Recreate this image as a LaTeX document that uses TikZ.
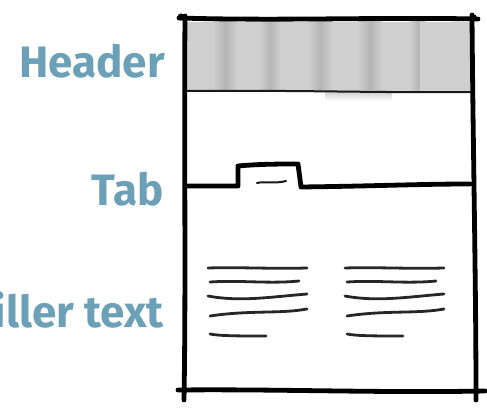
\documentclass[tikz,border=0pt]{standalone}
\usepackage{fontspec}
\newfontfamily\lblfont{Fira Sans}[BoldFont={Fira Sans Bold}]
\definecolor{lblblue}{RGB}{108,160,182}
\tikzset{
  lbl/.style={anchor=east, text=lblblue, font=\lblfont\bfseries\fontsize{44}{44}\selectfont, inner sep=0pt},
  frameline/.style={line width=4.8pt, line cap=round, line join=round, black},
  thinline/.style={line width=2pt, line cap=round, black!90},
  txtline/.style={line width=2.8pt, line cap=round, black!85},
}
\begin{document}
\begin{tikzpicture}[x=1pt,y=-1pt]
\useasboundingbox (0,0) rectangle (487,409);
\clip (0,0) rectangle (487,409);
% header band
\fill[gray!38] (186,22) rectangle (472,91);
\foreach \sx/\sw in {225/12,270/10,320/12,370/12,418/8}{
  \shade[left color=gray!38, right color=gray!38, middle color=gray!58] (\sx-\sw,22) rectangle (\sx+\sw,91);
}
\fill[gray!38] (420,22) rectangle (472,91);
\shade[top color=gray!40, bottom color=white] (325,91) rectangle (392,101);
\draw[thinline] (187,91) .. controls (300,90) and (380,93) .. (470,92);
% frame
\draw[frameline] (179,18) .. controls (280,21) and (380,17) .. (478,19);
\draw[frameline] (185,16) .. controls (184,150) and (186,280) .. (184,400);
\draw[frameline] (472,15) .. controls (473,150) and (476,280) .. (476,400);
\draw[frameline] (178,390) .. controls (280,389) and (380,393) .. (485,391);
\fill (181,17) circle (3.5pt);
\fill (474,17) circle (2.5pt);
% tab
\draw[frameline] (186,186) -- (238,186) -- (238,166) .. controls (260,164) and (280,164) .. (298,164) -- (301,187) .. controls (380,186) and (420,184) .. (470,184);
\draw[thinline] (257,183) .. controls (265,181) and (275,184) .. (286,181);
% filler text lines
\foreach \dx in {0,137}{
  \begin{scope}[xshift=\dx]
  \draw[txtline] (208,268) .. controls (240,267) and (270,269) .. (307,268);
  \draw[txtline] (210,282) .. controls (240,280) and (270,284) .. (299,281);
  \draw[txtline] (208,296) .. controls (240,302) and (270,297) .. (307,294);
  \draw[txtline] (210,316) .. controls (250,310) and (280,314) .. (307,309);
  \draw[txtline] (210,334) .. controls (220,336) and (240,336) .. (266,336);
  \end{scope}
}
% labels
\node[lbl, anchor=base east] (header) at (165,78) {Header};
\node[lbl, anchor=base east] (tab) at (164,205) {Tab};
\node[lbl, anchor=base east] (filler) at (164,327) {Filler text};
\end{tikzpicture}
\end{document}
